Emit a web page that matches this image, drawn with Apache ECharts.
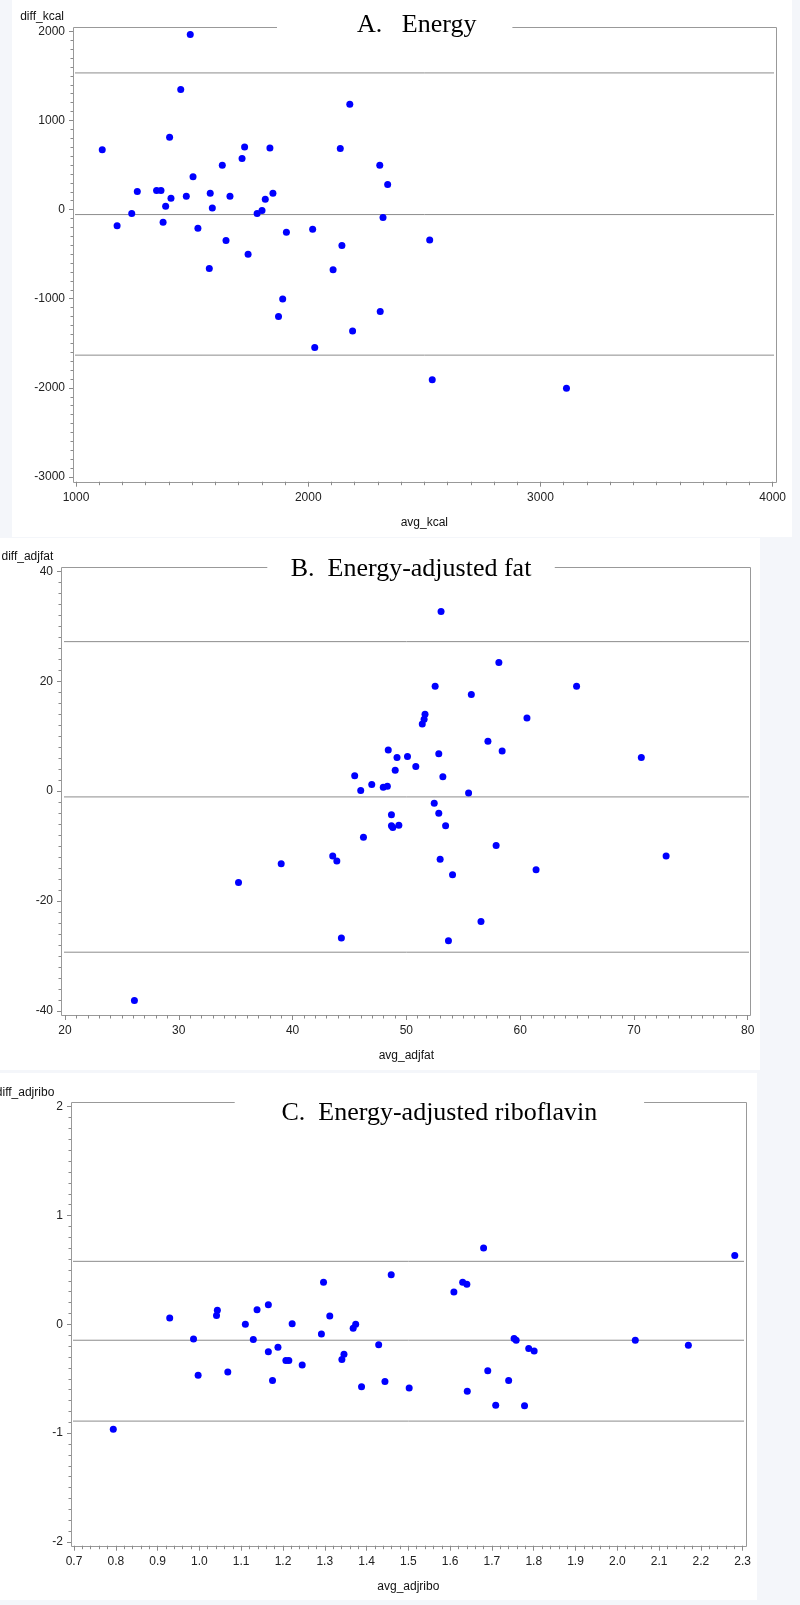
<!DOCTYPE html>
<html><head><meta charset="utf-8">
<script src="https://cdn.jsdelivr.net/npm/echarts@6/dist/echarts.min.js"></script>
<style>
html,body{margin:0;padding:0;background:#f4f6fa;}
#wrap{position:relative;width:800px;height:1605px;overflow:hidden;}
.panel{position:absolute;background:#fff;}
#chart{position:absolute;left:0;top:0;width:800px;height:1605px;}
</style></head><body>
<div id="wrap">
<div class="panel" style="left:12px;top:0;width:780px;height:537px"></div>
<div class="panel" style="left:0;top:538px;width:760px;height:532px"></div>
<div class="panel" style="left:0;top:1073px;width:757px;height:527px"></div>
<div id="chart"></div>
</div>
<script>
// ---------- Panel A: Energy ----------
const avgKcal  = [1113,1177,1240,1264,1347,1366,1375,1386,1403,1409,1451,1475,1492,1504,1525,1574,1578,1587,1630,1646,1663,1715,1726,1741,1780,1801,1815,1835,1848,1906,2019,2107,2138,2145,2179,2308,2322,2342,2523,1890,1872,2310,2191,2028,2534,3112];
const diffKcal = [670,-180,-45,202,213,213,-141,38,812,128,1346,150,1963,367,-209,-662,184,19,498,-348,150,572,703,-500,-45,-11,117,692,184,-254,-220,-675,684,-404,1182,498,-90,281,-340,-1002,-1200,-1144,-1361,-1548,-1910,-2004];
const refKcal  = [1533, -56, -1633];

// ---------- Panel B: Energy-adjusted fat ----------
const avgFat  = [26.1,35.25,39.0,43.53,43.89,44.29,45.46,45.99,46.23,46.96,47.97,48.33,48.41,48.69,48.69,48.81,49.02,49.18,49.34,50.1,50.83,51.4,51.56,51.64,52.45,52.53,52.85,52.85,52.97,53.05,53.21,53.45,53.7,54.06,55.47,55.71,56.56,57.17,57.89,58.13,58.42,60.6,61.4,64.96,70.65,72.83];
const diffFat = [-38.1,-16.6,-13.2,-11.8,-12.7,-26.7,2.8,0.1,-8.4,1.2,0.7,0.9,7.5,-4.3,-6.3,-6.6,3.8,6.1,-6.2,6.3,4.5,12.2,13.1,14.0,-2.2,19.1,6.8,-4.0,-12.4,32.7,2.6,-6.3,-27.2,-15.2,-0.35,17.6,-23.7,9.1,-9.9,23.4,7.3,13.3,-14.3,19.1,6.1,-11.8];
const refFat  = [27.2, -1.05, -29.3];

// ---------- Panel C: Energy-adjusted riboflavin ----------
const avgRibo  = [0.794,0.929,0.986,0.997,1.041,1.043,1.068,1.110,1.129,1.138,1.165,1.165,1.175,1.188,1.207,1.214,1.222,1.246,1.292,1.297,1.312,1.341,1.346,1.368,1.374,1.388,1.429,1.444,1.459,1.502,1.609,1.630,1.640,1.641,1.680,1.690,1.709,1.740,1.753,1.758,1.778,1.788,1.801,2.043,2.170,2.281];
const diffRibo = [-0.965,0.058,-0.135,-0.468,0.082,0.129,-0.439,0.0,-0.140,0.135,0.181,-0.251,-0.515,-0.211,-0.333,-0.333,0.006,-0.374,-0.088,0.386,0.076,-0.322,-0.275,-0.035,0.0,-0.573,-0.187,-0.526,0.456,-0.585,0.298,0.386,0.368,-0.614,0.702,-0.427,-0.743,-0.515,-0.129,-0.146,-0.749,-0.222,-0.246,-0.146,-0.193,0.632];
const refRibo  = [0.579, -0.146, -0.889];

const W = 800, H = 1605;
const SANS = 'Liberation Sans, Arial, sans-serif';
const SERIF = 'Liberation Serif, Times New Roman, serif';

const panels = [
  { title:'A.   Energy', xs:avgKcal, ys:diffKcal, ref:refKcal, xName:'avg_kcal', yName:'diff_kcal',
    xMin:1000, xMax:4000, xInt:1000, xMinor:10, yMin:-3000, yMax:2000, yInt:1000, yMinor:10, dec:0,
    grid:{left:76, top:31.3, right:W-772.7, bottom:H-477}, pad:{l:3, r:3.3, t:4.6, b:4.7},
    tl:{left:277, top:12, pl:80, pr:36}, yNamePad:9 },
  { title:'B.  Energy-adjusted fat', xs:avgFat, ys:diffFat, ref:refFat, xName:'avg_adjfat', yName:'diff_adjfat',
    xMin:20, xMax:80, xInt:10, xMinor:10, yMin:-40, yMax:40, yInt:20, yMinor:10, dec:0,
    grid:{left:65, top:571.3, right:W-747.7, bottom:H-1011}, pad:{l:4, r:2.3, t:4, b:4},
    tl:{left:267.3, top:556, pl:23.4, pr:23.4}, yNamePad:7.7 },
  { title:'C.  Energy-adjusted riboflavin', xs:avgRibo, ys:diffRibo, ref:refRibo, xName:'avg_adjribo', yName:'diff_adjribo',
    xMin:0.7, xMax:2.3, xInt:0.1, xMinor:5, yMin:-2, yMax:2, yInt:1, yMinor:10, dec:1,
    grid:{left:74, top:1106.7, right:W-742.7, bottom:H-1542}, pad:{l:3, r:3.3, t:5, b:3.7},
    tl:{left:234.7, top:1100.5, pl:46.8, pr:46.8}, yNamePad:16.7 }
];

const option = { animation:false, grid:[], xAxis:[], yAxis:[], series:[], title:[], graphic:[] };
const tickColor = '#8a8a8a';

panels.forEach((p, i) => {
  const g = p.grid;
  option.grid.push({ left:g.left, top:g.top, right:g.right, bottom:g.bottom, containLabel:false, outerBoundsMode:'none', show:false });
  const labelStyle = { color:'#222', fontFamily:SANS, fontSize:12 };
  option.xAxis.push({
    gridIndex:i, type:'value', position:'bottom', min:p.xMin, max:p.xMax, interval:p.xInt, offset:p.pad.b,
    axisLine:{show:false, onZero:false}, splitLine:{show:false}, minorSplitLine:{show:false},
    axisTick:{show:true, length:5, lineStyle:{color:tickColor}},
    minorTick:{show:true, splitNumber:p.xMinor, length:3.5, lineStyle:{color:tickColor}},
    axisLabel:Object.assign({ margin:10, formatter:v => Number(v).toFixed(p.dec) }, labelStyle),
    name:p.xName, nameLocation:'middle', nameGap:35, nameTextStyle:{ color:'#111', fontFamily:SANS, fontSize:12 }
  });
  option.yAxis.push({
    gridIndex:i, type:'value', position:'left', min:p.yMin, max:p.yMax, interval:p.yInt, offset:p.pad.l,
    axisLine:{show:false, onZero:false}, splitLine:{show:false}, minorSplitLine:{show:false},
    axisTick:{show:true, length:4, lineStyle:{color:tickColor}},
    minorTick:{show:true, splitNumber:p.yMinor, length:2.5, lineStyle:{color:tickColor}},
    axisLabel:Object.assign({ margin:8, formatter:v => String(Math.round(v*1000)/1000) }, labelStyle),
    name:p.yName, nameLocation:'end', nameGap:8.5,
    nameTextStyle:{ color:'#111', fontFamily:SANS, fontSize:12, align:'right', padding:[0, p.yNamePad, 0, 0] }
  });
  // frame extents in data units
  const gw = W - g.left - g.right;
  const xLo = p.xMin - p.pad.l / gw * (p.xMax - p.xMin);
  const xHi = p.xMax + p.pad.r / gw * (p.xMax - p.xMin);
  p.ref.forEach(v => {
    option.series.push({ type:'line', xAxisIndex:i, yAxisIndex:i, data:[[xLo, v], [xHi, v]],
      symbol:'none', clip:false, silent:true, z:1, lineStyle:{ color:'#8c8c8c', width:1 } });
  });
  option.series.push({ type:'scatter', xAxisIndex:i, yAxisIndex:i,
    data:p.xs.map((x, k) => [x, p.ys[k]]), symbol:'circle', symbolSize:7, z:3,
    itemStyle:{ color:'#0000ff', opacity:1 } });
  // frame
  const fx = Math.round(g.left - p.pad.l) + 0.5, fy = Math.round(g.top - p.pad.t) + 0.5;
  const fx2 = Math.round(W - g.right + p.pad.r) + 0.5, fy2 = Math.round(H - g.bottom + p.pad.b) + 0.5;
  option.graphic.push({ type:'rect', z:0, silent:true,
    shape:{ x:fx, y:fy, width:fx2 - fx, height:fy2 - fy },
    style:{ fill:null, stroke:'#999', lineWidth:1 } });
  option.title.push({ text:p.title, left:p.tl.left, top:p.tl.top, z:10,
    padding:[0, p.tl.pr, 0, p.tl.pl], backgroundColor:'#fff',
    textStyle:{ fontFamily:SERIF, fontSize:26, fontWeight:'normal', color:'#000', lineHeight:26 } });
});

const chart = echarts.init(document.getElementById('chart'), null, { renderer:'canvas', width:W, height:H });
chart.setOption(option);
</script>
</body></html>
